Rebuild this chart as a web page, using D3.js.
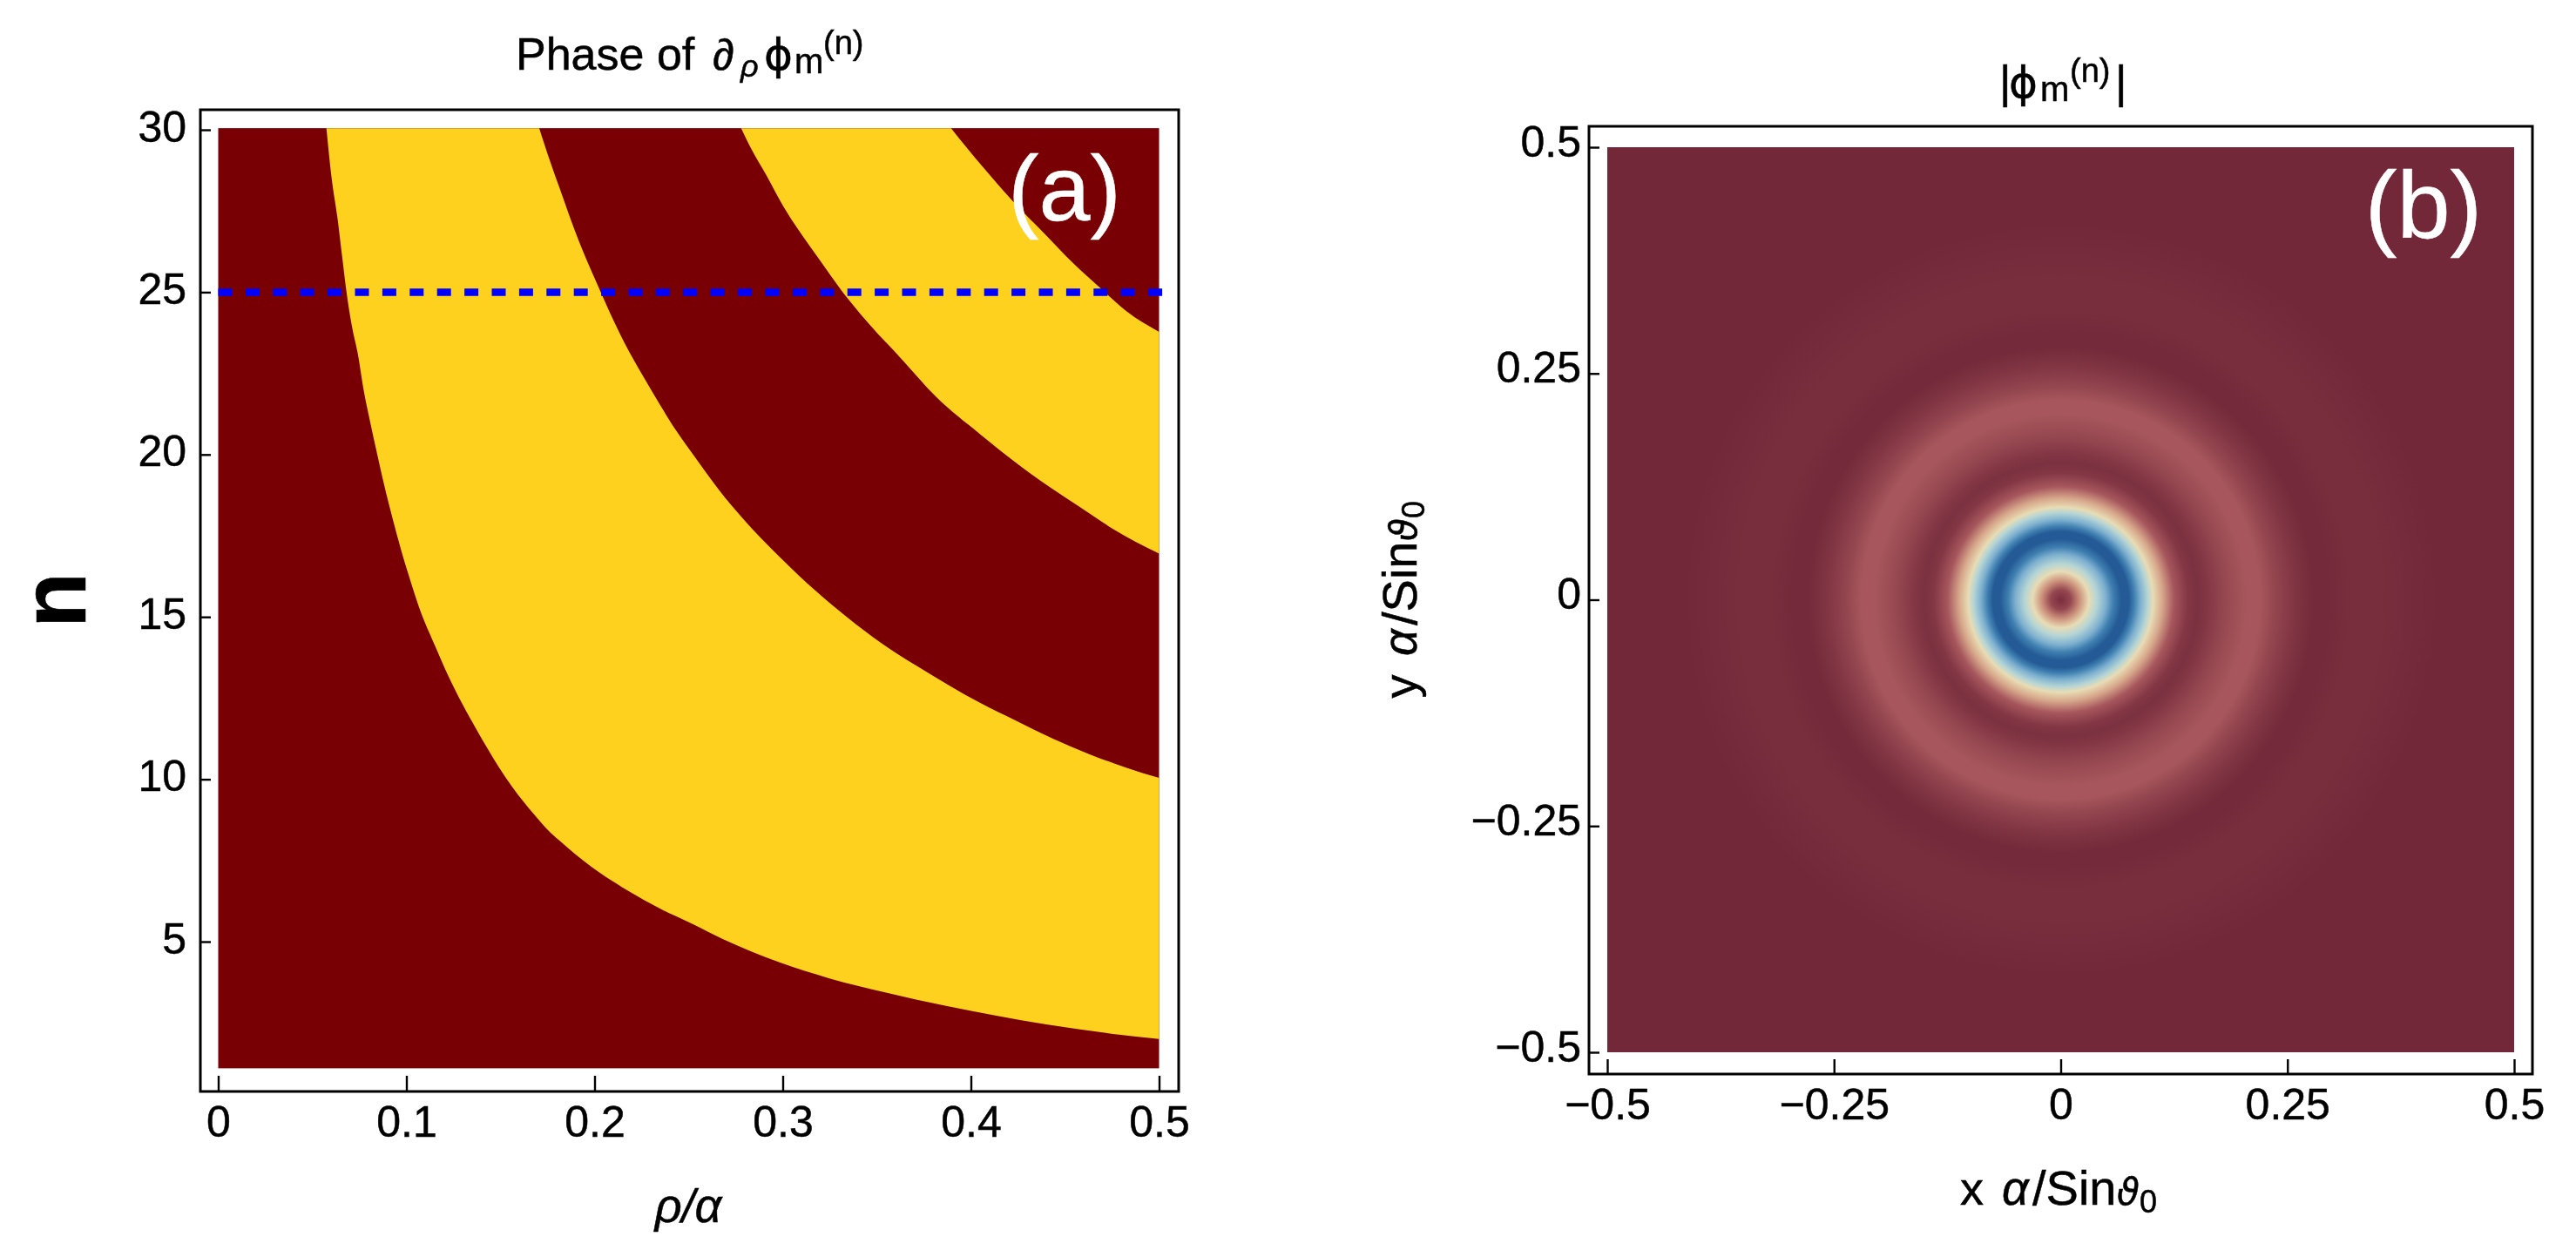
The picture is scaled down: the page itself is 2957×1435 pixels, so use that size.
<!DOCTYPE html>
<html><head><meta charset="utf-8">
<script src="https://cdn.jsdelivr.net/npm/d3@7"></script>
<style>
html,body{margin:0;padding:0;background:#fff;overflow:hidden}
svg{display:block;filter:blur(0.7px)}
text{font-family:"Liberation Sans","DejaVu Sans",sans-serif;fill:#000;stroke:#000;stroke-width:.5px}
</style></head><body>
<script>
// Panel (a): phase boundaries, read as [rho/alpha, n]
const boundary1 = [[.0575,30.05],[.0603,28.5],[.0633,27.32],[.066,26.03],[.0681,25.04],[.0713,23.88],[.074,23.16],[.0775,21.92],[.0811,20.91],[.0846,19.98],[.0882,19.06],[.0926,18.04],[.097,17.1],[.1014,16.25],[.1067,15.3],[.1155,14.07],[.1218,13.24],[.1299,12.3],[.1368,11.58],[.1431,10.95],[.1493,10.36],[.1563,9.76],[.1678,8.92],[.1741,8.5],[.1856,7.9],[.2025,7.13],[.2183,6.55],[.2343,6.03],[.2521,5.54],[.2681,5.08],[.2983,4.36],[.3248,3.87],[.3549,3.43],[.3868,3.02],[.4135,2.72],[.44,2.45],[.4755,2.16],[.5,2]];
const boundary2 = [[.1706,30.05],[.1759,29.11],[.1812,28.24],[.1865,27.37],[.1918,26.55],[.1963,25.92],[.2033,25],[.2095,24.2],[.2166,23.36],[.2255,22.44],[.2343,21.58],[.2432,20.75],[.2521,20.02],[.2664,18.89],[.2788,18.03],[.2983,16.85],[.3183,15.76],[.3336,15.02],[.3532,14.16],[.3709,13.5],[.3887,12.88],[.4046,12.36],[.4241,11.8],[.4436,11.25],[.4631,10.77],[.4825,10.36],[.5,10.04]];
const boundary3 = [[.2779,30.05],[.2832,29.42],[.2912,28.61],[.3,27.67],[.3107,26.72],[.3195,26.0],[.3319,25.0],[.3444,24.12],[.3638,22.9],[.3816,21.77],[.4046,20.64],[.4223,19.82],[.4418,19],[.4577,18.39],[.4755,17.71],[.5,16.95]];
const boundary4 = [[.3895,30.05],[.3975,29.47],[.4064,28.85],[.4223,27.8],[.44,26.75],[.4542,25.9],[.4701,25.06],[.4825,24.42],[.5,23.78]];
const nRange = [1.1, 30.05];
const rhoRange = [0, 0.5];
const cutN = 25;
const rhoTicks = [0,0.1,0.2,0.3,0.4,0.5];
const rhoTickLabels = ["0","0.1","0.2","0.3","0.4","0.5"];
const nTicks = [5,10,15,20,25,30];
// Panel (b): radial profile of the tone value
const ringRadius = [0,.011,.021,.031,.04,.05,.058,.067,.075,.081,.088,.096,.102,.112,.125,.14,.151,.162,.18,.205,.22,.235,.255,.279,.295,.32,.353,.416,.481,.708];
const ringTone   = [.02,.1,.32,.5,.6,.72,.85,1,1,.85,.72,.6,.5,.38,.15,.05,.03,.05,.1,.15,.15,.1,.05,.005,.008,.02,.018,0,0,0];
const xyTicks = [-0.5,-0.25,0,0.25,0.5];
const xyTickLabels = ["\u22120.5","\u22120.25","0","0.25","0.5"];
const toneStops = [0,.15,.35,.5,.6,.72,.85,1];
const toneColors = ["#722839","#a6565c","#d39b80","#e8dcb5","#b5d5d5","#7db0cf","#3f7fb0","#245a96"];

const svg = d3.select("body").append("svg").attr("width",2957).attr("height",1435);
const defs = svg.append("defs");
const FS = 50;

function rich(g, pieces){
  const t = g.append("text");
  pieces.forEach(p=>{
    t.append("tspan").attr("x",p[1]).attr("y",p[2]).attr("font-size",p[3])
      .attr("font-style",p[4]||"normal").attr("font-family",p[5]||null).text(p[0]);
  });
  return t;
}
function styleAxis(g){
  g.select(".domain").remove();
  g.selectAll("line").attr("stroke","#000").attr("stroke-width",2.4);
  g.selectAll("text").attr("font-size",FS).attr("font-family",null).attr("fill","#000");
}

/* ---------- panel (a) ---------- */
const xA = d3.scaleLinear().domain([0,0.5]).range([250.5,1330.5]);
const yA = d3.scaleLinear().domain([5,30]).range([1081,149]);
const a = svg.append("g");
a.append("rect").attr("x",xA(rhoRange[0])).attr("y",yA(nRange[1]))
  .attr("width",xA(rhoRange[1])-xA(rhoRange[0])).attr("height",yA(nRange[0])-yA(nRange[1]))
  .attr("fill","#780004");
const lineA = d3.line().x(d=>xA(d[0])).y(d=>yA(d[1])).curve(d3.curveMonotoneX);
[[boundary1,boundary2],[boundary3,boundary4]].forEach(([lo,hi])=>{
  a.append("path").attr("d",lineA(lo)+"L"+lineA(hi.slice().reverse()).slice(1)+"Z").attr("fill","#ffd11f");
});
a.append("line").attr("x1",xA(rhoRange[0])).attr("x2",xA(0.5023)).attr("y1",yA(cutN)).attr("y2",yA(cutN))
  .attr("stroke","#0000ff").attr("stroke-width",8.5).attr("stroke-dasharray","16 15.4");
a.append("rect").attr("x",230).attr("y",126).attr("width",1123).attr("height",1127)
  .attr("fill","none").attr("stroke","#000").attr("stroke-width",3);
a.append("g").attr("transform","translate(230,0)")
  .call(d3.axisLeft(yA).tickValues(nTicks).tickSize(-12).tickPadding(16).tickFormat(d3.format("d")))
  .call(styleAxis).call(g=>g.selectAll("text").attr("dy","0.26em"));
a.append("g").attr("transform","translate(0,1253)")
  .call(d3.axisBottom(xA).tickValues(rhoTicks).tickSize(-18).tickPadding(16).tickFormat((d,i)=>rhoTickLabels[i]))
  .call(styleAxis);
rich(a,[["Phase of",592,80,52],["\u2202",818,80,50,"italic"],["\u03c1",850,88,36,"italic"],["\u03d5",877,80,50,"normal","DejaVu Sans"],["m",912,84,40],["(n)",945,62,38]]);
a.append("text").attr("x",790).attr("y",1403).attr("text-anchor","middle").attr("font-size",54).attr("font-style","italic").text("\u03c1/\u03b1");
a.append("text").attr("transform","translate(98,689) rotate(-90)").attr("text-anchor","middle")
  .attr("font-size",105).attr("font-weight","bold").text("n");
a.append("text").attr("x",1222).attr("y",253).attr("text-anchor","middle").attr("font-size",106)
  .style("fill","#fff").style("stroke","#fff").text("(a)");

/* ---------- panel (b) ---------- */
const xB = d3.scaleLinear().domain([-0.5,0.5]).range([1845,2886]);
const yB = d3.scaleLinear().domain([-0.5,0.5]).range([1208,169]);
const tone = d3.scaleLinear().domain(toneStops).range(toneColors);
const rMax = d3.max(ringRadius);
const grad = defs.append("radialGradient").attr("id","rings").attr("gradientUnits","userSpaceOnUse")
  .attr("cx",xB(0)).attr("cy",yB(0)).attr("r",xB(rMax)-xB(0));
ringRadius.forEach((r,i)=>grad.append("stop").attr("offset",r/rMax).attr("stop-color",tone(ringTone[i])));
const b = svg.append("g");
b.append("rect").attr("x",xB(-0.5)).attr("y",yB(0.5)).attr("width",xB(0.5)-xB(-0.5)).attr("height",yB(-0.5)-yB(0.5))
  .attr("fill","url(#rings)");
b.append("rect").attr("x",1824).attr("y",145).attr("width",1083).attr("height",1088)
  .attr("fill","none").attr("stroke","#000").attr("stroke-width",3);
b.append("g").attr("transform","translate(1824,0)")
  .call(d3.axisLeft(yB).tickValues(xyTicks).tickSize(-12).tickPadding(9).tickFormat((d,i)=>xyTickLabels[i]))
  .call(styleAxis).call(g=>g.selectAll("text").attr("dy","0.2em"));
b.append("g").attr("transform","translate(0,1233)")
  .call(d3.axisBottom(xB).tickValues(xyTicks).tickSize(-17).tickPadding(16).tickFormat((d,i)=>xyTickLabels[i]))
  .call(styleAxis);
rich(b,[["|",2295,112,52],["\u03d5",2306,112,50,"normal","DejaVu Sans"],["m",2342,116,40],["(n)",2376,94,38],["|",2428,112,52]]);
rich(b,[["x",2250,1383,54],["\u03b1",2298,1383,54,"italic"],["/Sin",2333,1383,56],["\u03d1",2430,1383,42,"italic","DejaVu Sans"],["0",2456,1392,36]]);
const yl = b.append("g").attr("transform","translate(1626,687) rotate(-90)");
rich(yl,[["y",-114.5,0,54],["\u03b1",-66,0,54,"italic"],["/Sin",-31,0,56],["\u03d1",66,0,42,"italic","DejaVu Sans"],["0",92,9,36]]);
b.append("text").attr("x",2782).attr("y",273).attr("text-anchor","middle").attr("font-size",110)
  .style("fill","#fff").style("stroke","#fff").text("(b)");
</script>
</body></html>
